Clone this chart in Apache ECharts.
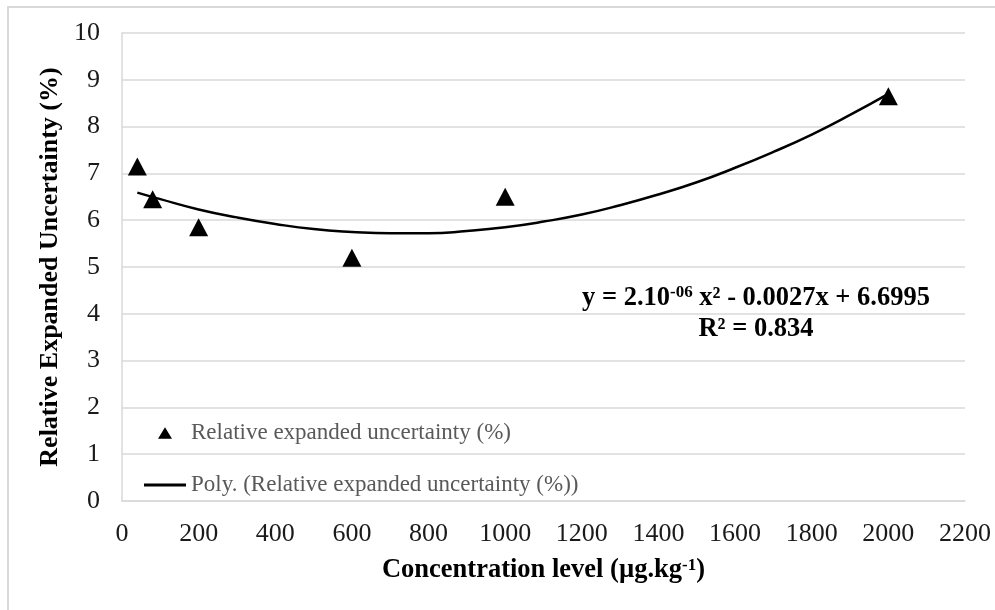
<!DOCTYPE html>
<html>
<head>
<meta charset="utf-8">
<script src="https://cdn.jsdelivr.net/npm/echarts@6/dist/echarts.min.js"></script>
<style>html,body{margin:0;padding:0;background:#fff}#chart{width:995px;height:610px}</style>
</head>
<body>
<div id="chart"></div>
<script>
// Measured data points (concentration level, relative expanded uncertainty %)
const concentration = [40, 80, 200, 600, 1000, 2000];
const uncertainty = [7.15, 6.45, 5.85, 5.2, 6.5, 8.65];

// Polynomial trend line at regular x positions
const trendX = [40, 100, 200, 300, 400, 500, 600, 700, 800, 900, 1000, 1100, 1200, 1300, 1400, 1500, 1600, 1700, 1800, 1900, 2000];
const trendY = [6.59, 6.45, 6.23, 6.06, 5.92, 5.81, 5.75, 5.72, 5.72, 5.77, 5.85, 5.97, 6.12, 6.32, 6.55, 6.81, 7.12, 7.46, 7.83, 8.25, 8.70];

const xTicks = {min: 0, max: 2200, interval: 200};
const yTicks = {min: 0, max: 10, interval: 1};

const seriesNames = ['Relative expanded uncertainty (%)', 'Poly. (Relative expanded uncertainty (%))'];
const xTitle = 'Concentration level (µg.kg{sup|-1})';
const yTitle = 'Relative Expanded Uncertainty (%)';
const equationText = 'y = 2.10{sup|-06} x² - 0.0027x + 6.6995';
const r2Text = 'R² = 0.834';

const FONT = "'Liberation Serif', 'Times New Roman', serif";
const GRID = '#d9d9d9';

// legend icons drawn in a 42x12 box (triangle centred, with zero-area anchors at the box edges)
const ICON_TRIANGLE = 'path://M0,12L0.01,12L0,12Z M14,11.8L21,0.2L28,11.8Z M42,12L41.99,12L42,12Z M0,0L0.01,0L0,0Z';
const ICON_LINE = 'path://M0,0H42V3H0Z';

const chart = echarts.init(document.getElementById('chart'), null, {renderer: 'canvas'});
chart.setOption({
  animation: false,
  backgroundColor: '#fff',
  textStyle: {fontFamily: FONT},
  grid: {left: 122, right: 30, top: 33, bottom: 109, outerBoundsMode: 'none'},
  xAxis: {
    type: 'value',
    min: xTicks.min, max: xTicks.max, interval: xTicks.interval,
    axisLine: {show: true, lineStyle: {color: GRID, width: 1.5}},
    axisTick: {show: false},
    splitLine: {show: false},
    axisLabel: {fontFamily: FONT, fontSize: 26, color: '#1a1a1a', margin: 20, formatter: v => String(v)},
    name: xTitle,
    nameLocation: 'middle',
    nameGap: 56,
    nameTextStyle: {
      fontFamily: FONT, fontSize: 26.5, fontWeight: 'bold', color: '#000',
      rich: {sup: {fontFamily: FONT, fontSize: 17, fontWeight: 'bold', color: '#000', verticalAlign: 'top'}}
    }
  },
  yAxis: {
    type: 'value',
    min: yTicks.min, max: yTicks.max, interval: yTicks.interval,
    axisLine: {show: true, lineStyle: {color: GRID, width: 1.5}},
    axisTick: {show: false},
    splitLine: {show: true, lineStyle: {color: GRID, width: 1.5}},
    axisLabel: {fontFamily: FONT, fontSize: 26, color: '#1a1a1a', margin: 22, formatter: v => String(v)},
    name: yTitle,
    nameLocation: 'middle',
    nameGap: 58,
    nameTextStyle: {fontFamily: FONT, fontSize: 26, fontWeight: 'bold', color: '#000'}
  },
  legend: {
    orient: 'vertical',
    left: 144, top: 421,
    padding: 0,
    itemWidth: 42, itemHeight: 12,
    itemGap: 28,
    symbolKeepAspect: true,
    textStyle: {fontFamily: FONT, fontSize: 23, color: '#595959', lineHeight: 24},
    data: [
      {name: seriesNames[0], icon: ICON_TRIANGLE, itemStyle: {color: '#000', opacity: 1}},
      {name: seriesNames[1], icon: ICON_LINE, itemStyle: {color: '#000', opacity: 1}}
    ]
  },
  graphic: [
    {type: 'rect', silent: true, z: -1,
     shape: {x: 8, y: 7, width: 1200, height: 800},
     style: {fill: 'none', stroke: GRID, lineWidth: 2}},
    {type: 'text', x: 756, y: 298, silent: true,
     style: {text: equationText, fontFamily: FONT, fontSize: 26.5, fontWeight: 'bold', fill: '#000',
             align: 'center', verticalAlign: 'middle',
             rich: {sup: {fontFamily: FONT, fontSize: 17, fontWeight: 'bold', fill: '#000', verticalAlign: 'top'}}}},
    {type: 'text', x: 756, y: 329, silent: true,
     style: {text: r2Text, fontFamily: FONT, fontSize: 26.5, fontWeight: 'bold', fill: '#000',
             align: 'center', verticalAlign: 'middle'}}
  ],
  series: [
    {
      name: seriesNames[0],
      type: 'scatter',
      symbol: 'triangle',
      symbolSize: [19, 18],
      itemStyle: {color: '#000', opacity: 1},
      z: 3,
      data: concentration.map((x, i) => [x, uncertainty[i]])
    },
    {
      name: seriesNames[1],
      type: 'line',
      smooth: true,
      symbol: 'none',
      lineStyle: {color: '#000', width: 2.5},
      itemStyle: {color: '#000'},
      z: 2,
      data: trendX.map((x, i) => [x, trendY[i]])
    }
  ]
});
</script>
</body>
</html>
